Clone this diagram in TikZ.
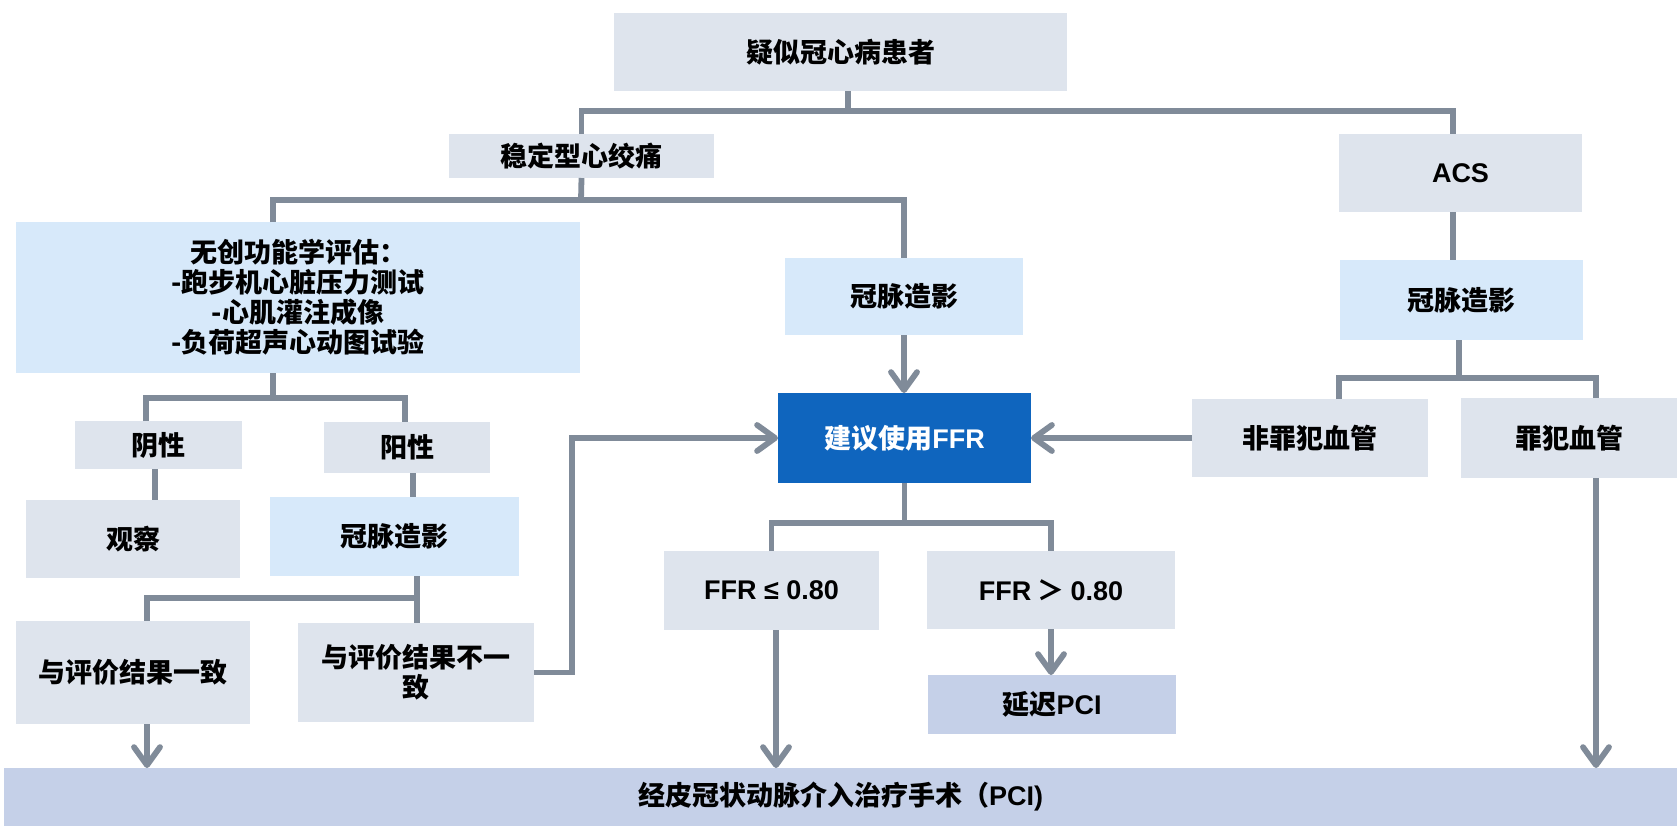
\documentclass[tikz,border=0pt]{standalone}
\usepackage{fontspec}
\setmainfont{Liberation Sans}
\newfontfamily\cjk{Noto Sans CJK SC}
\newfontfamily\latin{Liberation Sans}
\usetikzlibrary{arrows.meta}
\definecolor{boxg}{RGB}{222,228,237}
\definecolor{boxb}{RGB}{215,233,250}
\definecolor{boxd}{RGB}{15,101,190}
\definecolor{boxl}{RGB}{197,208,232}
\definecolor{linec}{RGB}{128,139,153}
\newcommand\mybox[7]{\node[#2, minimum width={(#5-#3)*0.5pt}, minimum height={(#6-#4)*0.5pt}] (#1) at ({(#3+#5)/2},{(#4+#6)/2}) {#7};}
\tikzset{
  bx/.style={inner sep=0pt, outer sep=0pt, align=center, font=\fontsize{13.5}{15}\selectfont\cjk\bfseries, text=black},
  gb/.style={bx, fill=boxg},
  lb/.style={bx, fill=boxb},
  db/.style={bx, fill=boxd, text=white},
  pb/.style={bx, fill=boxl},
  ln/.style={draw=linec, line width=2.9pt},
  arr/.style={ln, -{Straight Barb[length=9pt,width=13pt,round]}}
}
\begin{document}
\begin{tikzpicture}[x=0.5pt,y=-0.5pt]
\useasboundingbox (0,0) rectangle (1677,826);
% boxes
\mybox{top}{gb}{614}{13}{1067}{91}{疑似冠心病患者}
\mybox{stab}{gb}{449}{134}{714}{178}{稳定型心绞痛}
\mybox{acs}{gb}{1339}{134}{1582}{212}{{\latin ACS}}
\mybox{wc}{lb}{16}{222}{580}{373}{无创功能学评估：\\-跑步机心脏压力测试\\-心肌灌注成像\\-负荷超声心动图试验}
\mybox{cm1}{lb}{785}{258}{1023}{335}{冠脉造影}
\mybox{ffr}{db}{778}{393}{1031}{483}{建议使用{\latin FFR}}
\mybox{cm2}{lb}{1340}{260}{1583}{340}{冠脉造影}
\mybox{nz}{gb}{1192}{399}{1428}{477}{非罪犯血管}
\mybox{zf}{gb}{1461}{398}{1677}{478}{罪犯血管}
\mybox{f1}{gb}{664}{551}{879}{630}{{\latin FFR ≤ 0.80}}
\mybox{f2}{gb}{927}{551}{1175}{629}{{\latin FFR} ＞ {\latin 0.80}}
\mybox{dly}{pb}{928}{675}{1176}{734}{延迟{\latin PCI}}
\mybox{bar}{pb}{4}{768}{1677}{826}{经皮冠状动脉介入治疗手术（{\latin PCI)}}
\mybox{yin}{gb}{75}{421}{242}{469}{阴性}
\mybox{yang}{gb}{324}{422}{490}{473}{阳性}
\mybox{gc}{gb}{26}{500}{240}{578}{观察}
\mybox{cm3}{lb}{270}{497}{519}{576}{冠脉造影}
\mybox{y1}{gb}{16}{621}{250}{724}{与评价结果一致}
\mybox{y2}{gb}{298}{623}{534}{722}{与评价结果不一\\致}
% junction coordinates
\coordinate (j1) at (848,111);
\coordinate (j1r) at (1453,111);
\coordinate (j2) at (581,200);
\coordinate (j2l) at (273,200);
\coordinate (j3) at (1459,378);
\coordinate (j3l) at (1339,378);
\coordinate (j3r) at (1596,378);
\coordinate (j4) at (905,523);
\coordinate (x1) at (776,0);
\coordinate (j5) at (273,398);
\coordinate (j5l) at (146,398);
\coordinate (j5r) at (405,398);
\coordinate (x2) at (155,0);
\coordinate (x3) at (413,0);
\coordinate (j6) at (417,598);
\coordinate (j6l) at (147,598);
\coordinate (k1) at (572,0);
% connectors
\draw[ln] (top.south -| j1) -- (j1);
\draw[ln] (stab.north) |- (j1) -- (j1r) -- (acs.north -| j1r);
\draw[ln] (stab.south) -- (j2);
\draw[ln] (wc.north -| j2l) |- (j2) -| (cm1.north);
\draw[arr] (cm1.south) -- (cm1.south |- ffr.north);
\draw[ln] (acs.south -| j1r) -- (cm2.north -| j1r);
\draw[ln] (cm2.south -| j3) -- (j3);
\draw[ln] (nz.north -| j3l) -- (j3l) -- (j3r) -- (zf.north -| j3r);
\draw[arr] (nz.west) -- (ffr.east);
\draw[arr] (zf.south -| j3r) -- (bar.north -| j3r);
\draw[ln] (ffr.south) -- (ffr.south |- j4);
\draw[ln] (f1.north) |- (j4) -| (f2.north);
\draw[arr] (f2.south) -- (f2.south |- dly.north);
\draw[arr] (f1.south -| x1) -- (bar.north -| x1);
\draw[ln] (wc.south -| j5) -- (j5);
\draw[ln] (yin.north -| j5l) -- (j5l) -- (j5r) -- (yang.north -| j5r);
\draw[ln] (yin.south -| x2) -- (gc.north -| x2);
\draw[ln] (yang.south -| x3) -- (cm3.north -| x3);
\draw[ln] (cm3.south -| j6) -- (j6) -- (j6l) -- (y1.north -| j6l);
\draw[ln] (j6) -- (y2.north -| j6);
\draw[arr] (y1.south -| j6l) -- (bar.north -| j6l);
\draw[arr] (y2.east) -- (y2.east -| k1) |- (ffr.west);
\end{tikzpicture}
\end{document}
